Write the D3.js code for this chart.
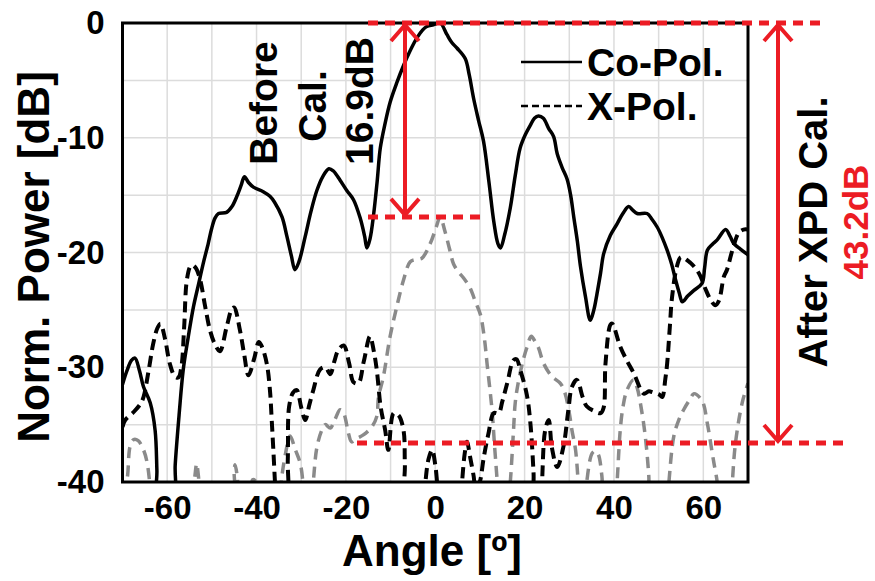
<!DOCTYPE html>
<html>
<head>
<meta charset="utf-8">
<script src="https://cdn.jsdelivr.net/npm/d3@7/dist/d3.min.js"></script>
<style>
  html, body { margin: 0; padding: 0; background: #fff; }
  svg { display: block; font-family: "Liberation Sans", Arial, sans-serif; font-weight: bold; }
</style>
</head>
<body>
<svg id="chart" width="875" height="581"></svg>
<script>
// Angle axis ticks and power axis ticks
const xTicks = [-60, -40, -20, 0, 20, 40, 60];
const yTicks = [0, -10, -20, -30, -40];

// Co-polarised pattern [angle (deg), normalised power (dB)]
const coPol = [
  [-70,-31.5],[-69,-30.3],[-68,-29.4],[-67.2,-29.2],[-66.2,-30.3],[-65.3,-31.7],[-63.8,-33.1],
  [-62.7,-35.5],[-62.3,-39],[-62.1,-42],[-58.6,-42],[-58.2,-38.5],[-57.3,-34.0],[-56.4,-30.2],
  [-55.3,-27.4],[-54.1,-24.7],[-53.0,-22.8],[-51.9,-20.9],[-50.8,-19.2],[-50.1,-18.0],[-49.3,-17.0],
  [-48.5,-16.6],[-46.7,-16.5],[-45.5,-16.0],[-44.4,-15.1],[-43.5,-14.2],[-42.7,-13.4],[-41.8,-13.9],
  [-40.7,-14.3],[-38.5,-14.7],[-37.0,-15.1],[-36.0,-15.6],[-34.3,-16.9],[-33.2,-18.6],[-32.2,-20.3],
  [-31.4,-21.5],[-30.5,-20.8],[-29.1,-18.6],[-27.8,-16.4],[-26.5,-14.6],[-25.2,-13.4],[-23.8,-12.7],
  [-22.8,-12.9],[-21.3,-13.7],[-19.8,-14.6],[-18.3,-15.4],[-16.8,-17.0],[-15.8,-18.6],[-15.3,-19.6],
  [-14.6,-18.8],[-13.8,-16.7],[-13.0,-13.8],[-12.3,-10.9],[-11.2,-8.7],[-10.1,-6.9],[-8.6,-5.2],
  [-7.1,-3.7],[-5.6,-2.4],[-4.1,-1.3],[-2.8,-0.6],[-1.9,-0.3],[-0.4,-0.15],[1.1,0],[2.6,-1.0],
  [3.7,-1.7],[4.9,-2.2],[6.7,-3.1],[7.6,-4.5],[8.6,-6.6],[9.7,-8.5],[10.8,-10.3],[12.0,-13.8],
  [13.1,-17.3],[14.0,-19.2],[14.6,-19.6],[15.5,-18.5],[16.8,-16.1],[17.9,-13.3],[19.0,-10.9],
  [20.2,-9.7],[21.3,-8.9],[22.2,-8.3],[23.1,-8.1],[24.2,-8.3],[25.4,-9.2],[26.5,-9.9],[27.3,-11.4],
  [28.4,-12.6],[29.5,-13.6],[30.3,-15.0],[31.0,-16.9],[31.8,-19.0],[32.5,-21.2],[33.6,-23.8],
  [34.7,-25.9],[35.5,-25.0],[36.2,-23.6],[37.0,-21.8],[37.7,-20.1],[39.2,-18.5],[40.7,-17.5],
  [42.0,-16.6],[43.3,-16.0],[44.2,-16.3],[45.2,-16.6],[47.4,-16.6],[48.5,-17.1],[49.7,-17.8],
  [50.8,-18.7],[51.9,-19.8],[52.9,-21.0],[53.8,-22.4],[54.6,-23.5],[55.3,-24.3],[56.5,-23.8],
  [57.9,-23.3],[59.7,-22.7],[60.3,-21.3],[60.9,-19.8],[62.0,-19.3],[63.1,-18.9],[65.0,-18.0],
  [66.0,-18.6],[66.8,-19.2],[68.3,-19.7],[70,-20.2]
];

// Cross-polarised pattern before calibration
const xPolBefore = [
  [-70,-35.2],[-69.4,-34.6],[-67.5,-33.9],[-66,-33.2],[-65.3,-32.6],[-64.2,-30.4],[-63.1,-27.9],
  [-62.2,-26.6],[-61.5,-26.2],[-60.5,-27.5],[-59.4,-29.7],[-58.3,-30.8],[-57.5,-30.9],[-56.8,-29.9],
  [-56.2,-26.5],[-55.6,-22.4],[-54.8,-21.2],[-54.3,-21.1],[-53.5,-21.4],[-52.6,-22.4],[-51.5,-24.7],
  [-50.4,-26.8],[-49.3,-28.0],[-48.2,-28.6],[-46.7,-26.5],[-45.5,-24.9],[-45.0,-24.8],[-43.7,-26.8],
  [-42.8,-28.8],[-41.8,-30.7],[-40.5,-29.2],[-39.5,-27.8],[-38.8,-28.2],[-37.7,-29.7],[-37.0,-32],
  [-36.6,-34.6],[-36.2,-37.5],[-35.8,-40.5],[-35.5,-42],[-33.4,-42],[-33.0,-38],[-32.7,-33.4],
  [-31.8,-32.2],[-31.0,-32.0],[-30.0,-33.5],[-29.1,-34.6],[-28.2,-33.3],[-27.3,-32.0],[-25.8,-30.2],
  [-24.6,-30.0],[-23.5,-30.6],[-22.6,-29.5],[-21.7,-28.5],[-20.5,-28.1],[-19.3,-29.6],[-18.3,-31.3],
  [-17.2,-31.4],[-16.0,-29.5],[-14.6,-27.3],[-13.8,-28.5],[-13.1,-30.2],[-12.2,-33.5],[-11.2,-35.5],
  [-10.5,-37.2],[-9.3,-34.0],[-8.2,-34.2],[-7.1,-35.5],[-6.8,-38.5],[-6.5,-42],[-2.6,-42],
  [-2.2,-40],[-1.5,-38],[-0.7,-37.2],[0,-38.5],[0.4,-40],[0.8,-42],[5.6,-42],[6.0,-40],[6.6,-37.5],
  [7.1,-36.5],[7.8,-37.8],[8.6,-39.5],[9.0,-40.5],[9.6,-40.3],[10.1,-39.8],[10.8,-38.0],[11.9,-35.8],
  [13.1,-34.0],[14.2,-34.0],[15.0,-33.0],[16.1,-31.4],[17.5,-29.4],[18.2,-29.3],[19.0,-30.2],
  [20.5,-32.4],[21.3,-34.9],[22.0,-39.2],[22.3,-42],[23.6,-42],[23.9,-40],[24.6,-35.5],[25.4,-34.6],
  [26.1,-37.0],[27.3,-38.7],[28.7,-36.9],[29.8,-33.7],[30.6,-31.7],[31.7,-31.1],[33.0,-32.6],
  [33.9,-33.4],[35.5,-33.8],[37.0,-34.0],[37.7,-33.5],[38.1,-29.7],[39.2,-26.3],[39.6,-26.2],
  [41.4,-28.2],[43.0,-29.5],[44.4,-30.5],[46.7,-32.3],[47.8,-32.1],[48.8,-32.2],[50.2,-32.4],
  [50.8,-32.6],[51.5,-31.0],[51.9,-29.7],[52.5,-26.5],[53.0,-23.9],[54.1,-21.2],[55.0,-20.4],
  [57.1,-20.9],[58.5,-21.5],[59.4,-22.1],[60.5,-23.2],[61.6,-24.1],[62.7,-24.6],[63.5,-24.2],
  [64.6,-22.1],[65.3,-21.5],[66.5,-19.8],[67.9,-18.3],[69.0,-18.0],[70,-18.0]
];

// Cross-polarised pattern after XPD calibration
const xPolAfter = [
  [-70,-41],[-69,-39.8],[-68.3,-36.9],[-67.5,-36.3],[-66.5,-36.4],[-65.3,-37.2],[-64.5,-38.3],
  [-63.8,-40.5],[-63.5,-42],[-54.5,-42],[-53.8,-39.5],[-53.4,-38.4],[-53,-39.5],[-52.3,-42],
  [-45.5,-42],[-45,-39],[-44.8,-38.5],[-44.3,-39.6],[-43.8,-42],[-41.5,-42],[-40.9,-39.8],
  [-40.3,-39.9],[-39.8,-42],[-35,-42],[-34.5,-40],[-33.5,-37.5],[-32.5,-36],[-31.3,-37.2],
  [-30.2,-38.4],[-29.5,-40.5],[-29.2,-42],[-27.8,-42],[-27.3,-40],[-26.5,-37],[-25.4,-35.5],
  [-24.6,-35.0],[-23.5,-35.3],[-22.5,-34.6],[-21.3,-33.7],[-20.5,-34.0],[-19.4,-35.8],[-18.7,-36.5],
  [-17.5,-36.2],[-16.1,-35.9],[-14.2,-35.2],[-13.1,-34.3],[-12.7,-32.6],[-11.6,-30.8],[-10.1,-27.3],
  [-8.6,-24.7],[-7.1,-22.4],[-5.6,-20.8],[-4.3,-20.6],[-3.0,-20.5],[-1.1,-19.2],[0.2,-17.8],
  [1.1,-16.9],[2.2,-18.2],[3.2,-19.7],[4.1,-21.0],[5.2,-21.7],[6.3,-22.2],[7.8,-23.1],[9.0,-24.3],
  [10.1,-25.4],[11.0,-27.5],[11.6,-29.7],[12.7,-33.7],[13.3,-37],[13.8,-39.6],[14.2,-42],
  [16.3,-42],[16.8,-40],[17.5,-35.6],[17.9,-33.1],[18.5,-31.5],[19.6,-29.5],[20.5,-28.3],
  [21.5,-27.3],[22.4,-27.8],[23.1,-28.3],[24.3,-29.7],[26.1,-30.8],[28.0,-31.4],[29.0,-32.2],
  [30.0,-34.0],[30.6,-35.5],[31.4,-37.2],[32,-40],[32.4,-42],[33.4,-42],[33.9,-40.0],[35.1,-37.5],
  [35.8,-37.3],[36.5,-37.6],[37.3,-39.5],[37.8,-42],[40.3,-42],[40.7,-40],[41.4,-35.5],[42.0,-33.5],
  [42.9,-32.0],[44.4,-31.1],[45.2,-31.8],[45.9,-33.1],[47.0,-36.0],[47.8,-39.5],[48.1,-42],
  [51.9,-42],[52.3,-40],[53.4,-36.0],[54.5,-34.6],[55.6,-33.7],[57.0,-32.8],[57.9,-32.3],
  [59.7,-32.9],[60.9,-34.9],[62.0,-37.5],[62.4,-38.4],[63.1,-40],[63.4,-42],[66.2,-42],[66.5,-40],
  [67.2,-36.6],[68.7,-33.1],[70,-31.4]
];

// Legend entries
const legendLabels = ["Co-Pol.", "X-Pol."];

// Annotation levels (dB) and texts
const beforeLevels = [0, -16.9];
const afterLevels = [0, -36.6];
const beforeText = ["Before", "Cal.", "16.9dB"];
const afterText = ["After XPD Cal.", "43.2dB"];

const RED = "#ec1c24";
const svg = d3.select("#chart");
const plot = { left: 122.5, right: 748, top: 23, bottom: 482 };

const x = d3.scaleLinear().domain([-70, 70]).range([plot.left, plot.right]);
const y = d3.scaleLinear().domain([-40, 0]).range([plot.bottom, plot.top]);

// grid
const grid = svg.append("g").attr("stroke", "#dcdcdc").attr("stroke-width", 1.5);
grid.selectAll(".gx").data(d3.range(-60, 70, 10)).join("line")
  .attr("x1", d => x(d)).attr("x2", d => x(d)).attr("y1", plot.top).attr("y2", plot.bottom);
grid.selectAll(".gy").data(d3.range(-35, 0, 5)).join("line")
  .attr("y1", d => y(d)).attr("y2", d => y(d)).attr("x1", plot.left).attr("x2", plot.right);

svg.append("clipPath").attr("id", "clip").append("rect")
  .attr("x", plot.left).attr("y", plot.top - 3)
  .attr("width", plot.right - plot.left).attr("height", plot.bottom - plot.top + 3);

const line = d3.line().x(d => x(d[0])).y(d => y(d[1])).curve(d3.curveCatmullRom.alpha(0.5));
const curves = svg.append("g").attr("clip-path", "url(#clip)").attr("fill", "none")
  .attr("stroke-linejoin", "round");

curves.append("path").datum(xPolAfter).attr("d", line)
  .attr("stroke", "#8a8a8a").attr("stroke-width", 3.5).attr("stroke-dasharray", "11,7");
curves.append("path").datum(xPolBefore).attr("d", line)
  .attr("stroke", "#000").attr("stroke-width", 4).attr("stroke-dasharray", "11,6");
curves.append("path").datum(coPol).attr("d", line)
  .attr("stroke", "#000").attr("stroke-width", 3.5);

// frame
svg.append("rect").attr("x", plot.left).attr("y", plot.top)
  .attr("width", plot.right - plot.left).attr("height", plot.bottom - plot.top)
  .attr("fill", "none").attr("stroke", "#000").attr("stroke-width", 3);

// axes (plain hyphen for negative numbers)
const fmt = d => String(d);
const xAxis = svg.append("g").attr("transform", `translate(0,${plot.bottom})`)
  .call(d3.axisBottom(x).tickValues(xTicks).tickSize(0).tickPadding(14).tickFormat(fmt));
xAxis.select(".domain").remove();
xAxis.selectAll("text").attr("font-size", 33).attr("font-weight", "bold").attr("fill", "#000")
  .attr("font-family", "Liberation Sans, Arial, sans-serif");

const yAxis = svg.append("g").attr("transform", `translate(${plot.left},0)`)
  .call(d3.axisLeft(y).tickValues(yTicks).tickSize(0).tickPadding(18).tickFormat(fmt));
yAxis.select(".domain").remove();
yAxis.selectAll("text").attr("font-size", 33).attr("font-weight", "bold").attr("fill", "#000")
  .attr("font-family", "Liberation Sans, Arial, sans-serif");

// axis titles
svg.append("text").attr("x", 432).attr("y", 566).attr("text-anchor", "middle")
  .attr("font-size", 44).text("Angle [º]");
svg.append("text").attr("transform", "translate(49,257) rotate(-90)").attr("text-anchor", "middle")
  .attr("font-size", 44).text("Norm. Power [dB]");

// legend
const legend = svg.append("g");
legendLabels.forEach((lab, i) => {
  const ly = 62 + i * 44;
  legend.append("line").attr("x1", 521).attr("x2", 582).attr("y1", ly).attr("y2", ly)
    .attr("stroke", "#000").attr("stroke-width", 2.5)
    .attr("stroke-dasharray", i === 1 ? "7,4" : null);
  legend.append("text").attr("x", 587).attr("y", ly + 14).attr("font-size", 39).text(lab);
});

// red annotations
const ann = svg.append("g").attr("stroke", RED).attr("fill", "none");
function hDash(level, x1, x2) {
  ann.append("line").attr("x1", x1).attr("x2", x2).attr("y1", y(level)).attr("y2", y(level))
    .attr("stroke-width", 5).attr("stroke-dasharray", "10,7");
}
function dblArrow(px, l1, l2) {
  const y1 = y(l1), y2 = y(l2);
  ann.append("line").attr("x1", px).attr("x2", px).attr("y1", y1 + 2).attr("y2", y2 - 2)
    .attr("stroke-width", 4);
  ann.append("path").attr("stroke-width", 4).attr("stroke-linejoin", "miter")
    .attr("d", `M${px - 14},${y1 + 18} L${px},${y1 + 2} L${px + 14},${y1 + 18}`);
  ann.append("path").attr("stroke-width", 4).attr("stroke-linejoin", "miter")
    .attr("d", `M${px - 14},${y2 - 18} L${px},${y2 - 2} L${px + 14},${y2 - 18}`);
}
hDash(beforeLevels[0], 368, 822);
hDash(beforeLevels[1], 368, 480);
hDash(afterLevels[1], 357, 844);
dblArrow(405, beforeLevels[0], beforeLevels[1]);
dblArrow(778, afterLevels[0], afterLevels[1]);

// rotated labels
function vText(tx, ty, txt, size, color) {
  svg.append("text").attr("transform", `translate(${tx},${ty}) rotate(-90)`)
    .attr("text-anchor", "middle").attr("font-size", size).attr("fill", color).text(txt);
}
vText(277, 103, beforeText[0], 39, "#000");
vText(326, 106, beforeText[1], 39, "#000");
vText(373, 101, beforeText[2], 39, "#000");
vText(827, 232, afterText[0], 40, "#000");
vText(868, 222, afterText[1], 35, RED);
</script>
</body>
</html>
